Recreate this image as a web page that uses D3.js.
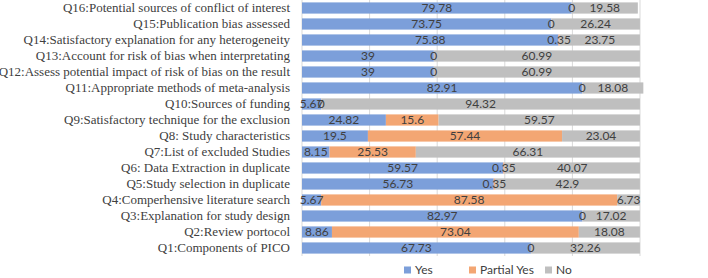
<!DOCTYPE html>
<html><head><meta charset="utf-8">
<script src="https://cdn.jsdelivr.net/npm/d3@7"></script>
<style>body{margin:0;background:#fff}svg{display:block}</style>
</head><body><svg id="c" width="708" height="278"></svg>
<script>
const categories = [
  "Q16:Potential sources of conflict of interest",
  "Q15:Publication bias assessed",
  "Q14:Satisfactory explanation for any heterogeneity",
  "Q13:Account for risk of bias when interpretating",
  "Q12:Assess potential impact of risk of bias on the result",
  "Q11:Appropriate methods of meta-analysis",
  "Q10:Sources of funding",
  "Q9:Satisfactory technique for the exclusion",
  "Q8: Study characteristics",
  "Q7:List of excluded Studies",
  "Q6: Data Extraction in duplicate",
  "Q5:Study selection in duplicate",
  "Q4:Comperhensive literature search",
  "Q3:Explanation for study design",
  "Q2:Review portocol",
  "Q1:Components of PICO"
];
const yes        = [79.78, 73.75, 75.88, 39, 39, 82.91, 5.67, 24.82, 19.5, 8.15, 59.57, 56.73, 5.67, 82.97, 8.86, 67.73];
const partialYes = [0, 0, 0.35, 0, 0, 0, 0, 15.6, 57.44, 25.53, 0.35, 0.35, 87.58, 0, 73.04, 0];
const no         = [19.58, 26.24, 23.75, 60.99, 60.99, 18.08, 94.32, 59.57, 23.04, 66.31, 40.07, 42.9, 6.73, 17.02, 18.08, 32.26];
const seriesNames = ["Yes", "Partial Yes", "No"];
const xTicks = [0, 20, 40, 60, 80, 100];

const colors = ["#7c9fda", "#f3a673", "#bfbfbf"];
const svg = d3.select("#c");
const x = d3.scaleLinear().domain([0, 100]).range([302, 640]);
const y = d3.scaleBand().domain(categories).range([0, 256]).paddingInner(0.3).paddingOuter(0.15);

// gridlines
svg.append("g").selectAll("line").data(xTicks).join("line")
  .attr("x1", d => x(d)).attr("x2", d => x(d))
  .attr("y1", 0).attr("y2", 256)
  .attr("stroke", "#d9d9d9").attr("stroke-width", 1);

const series = [yes, partialYes, no];
const rows = categories.map((c, i) => {
  let acc = 0;
  return series.map((s, k) => { const r = {cat: c, k, v: s[i], x0: acc, x1: acc + s[i]}; acc += s[i]; return r; });
});
const segs = rows.flat();

svg.append("g").selectAll("rect").data(segs).join("rect")
  .attr("x", d => x(d.x0)).attr("width", d => x(d.x1) - x(d.x0))
  .attr("y", d => y(d.cat)).attr("height", y.bandwidth())
  .attr("fill", d => colors[d.k]);

svg.append("g").selectAll("text").data(segs).join("text")
  .attr("x", d => (x(d.x0) + x(d.x1)) / 2)
  .attr("y", d => y(d.cat) + y.bandwidth() / 2)
  .attr("dy", "0.36em").attr("text-anchor", "middle")
  .attr("font-family", "Lato, 'Open Sans', sans-serif").attr("font-size", 12)
  .attr("fill", "#404040")
  .text(d => d.v);

// category axis
const yAxis = d3.axisLeft(y).tickSize(0).tickPadding(12);
const ga = svg.append("g").attr("transform", "translate(302,0)").call(yAxis);
ga.select(".domain").remove();
ga.selectAll("text").attr("font-family", "'Liberation Serif', 'Times New Roman', serif")
  .attr("font-size", 13).attr("fill", "#404040");

// legend
const legX = [404, 469, 545];
const lg = svg.append("g").selectAll("g").data(seriesNames).join("g")
  .attr("transform", (d, i) => `translate(${legX[i]},270)`);
lg.append("rect").attr("x", 0).attr("y", -3.5).attr("width", 7).attr("height", 7).attr("fill", (d, i) => colors[i]);
lg.append("text").attr("x", 11).attr("y", 0).attr("dy", "0.36em")
  .attr("font-family", "Lato, 'Open Sans', sans-serif").attr("font-size", 12).attr("fill", "#404040")
  .text(d => d);
</script></body></html>
